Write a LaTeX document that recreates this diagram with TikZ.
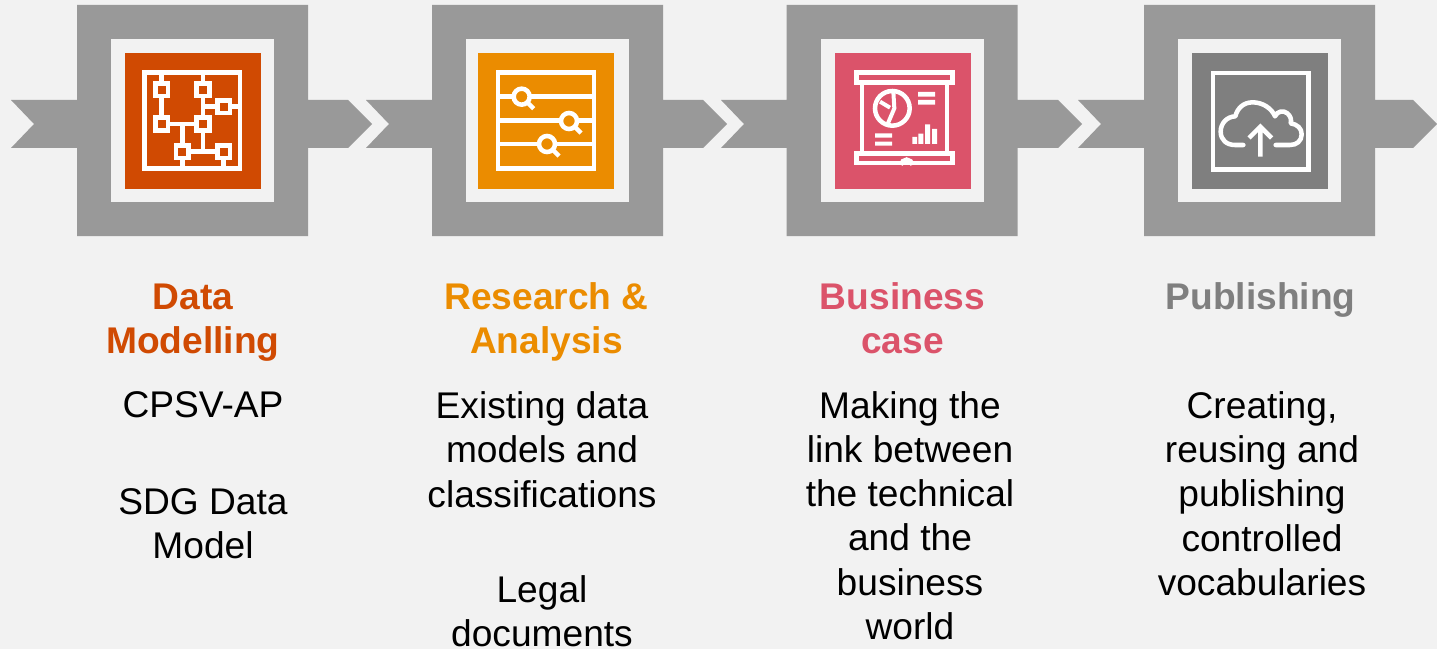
\documentclass[tikz,border=0pt]{standalone}
\usepackage{fontspec}
\setmainfont{Liberation Sans}
\definecolor{bgc}{HTML}{F2F2F2}
\definecolor{band}{HTML}{999999}
\definecolor{cA}{HTML}{D04A02}
\definecolor{cB}{HTML}{EB8C00}
\definecolor{cC}{HTML}{DB536A}
\definecolor{cD}{HTML}{7F7F7F}
\tikzset{
  bandfill/.style={fill=band,draw=none},
  panel/.style={fill=bgc,draw=none},
  iconline/.style={draw=white,line width=3.4pt,fill=none},
  iconthin/.style={draw=white,line width=3pt,fill=none},
  iconbar/.style={fill=white,draw=none},
  bodytext/.style={align=center,inner sep=0pt,font=\fontsize{27.85}{33.2}\selectfont,text=black},
  titletext/.style={align=center,inner sep=0pt,font=\fontsize{27.85}{33.2}\selectfont\bfseries},
}
% #1 left edge of the square, #2 tail x, #3 tip x, #4 colour left edge, #5 colour
\newcommand{\stage}[5]{%
  \fill[bandfill] (#2,100) -- (#1,100) -- (#1,5) -- (#1+231,5) -- (#1+231,100)
     -- (#3-24,100) -- (#3,124) -- (#3-24,148) -- (#1+231,148) -- (#1+231,236)
     -- (#1,236) -- (#1,148) -- (#2,148) -- (#2+23,124) -- cycle;
  \fill[panel] (#1+34,39) rectangle (#1+197,202);
  \fill[#5] (#4,53) rectangle (#4+136,189);
}
\begin{document}
\begin{tikzpicture}[x=0.75pt,y=-0.75pt]
\useasboundingbox (0,0) rectangle (1437,649);
\fill[bgc] (0,0) rectangle (1437,649);
\stage{77}{11}{372}{125}{cA}
\stage{432}{366}{727}{478}{cB}
\stage{786.5}{721}{1082}{835}{cC}
\stage{1144}{1078}{1437}{1192}{cD}

% icon 1: network
\begin{scope}[shift={(120,48)},x=0.25pt,y=-0.25pt]
  \draw[iconline] (73,74) rectangle (360,361);
  \draw[iconline]
    (125,74) -- (125,228) (249,74) -- (249,311)
    (125,228) -- (249,228) (187,228) -- (187,361)
    (187,311) -- (311,311) (311,311) -- (311,361)
    (249,176) -- (360,176);
  \foreach \cx/\cy in {125/125,249/125,311/176,125/228,249/228,187/311,311/311}
    \draw[iconline,fill=cA] (\cx-19,\cy-19) rectangle (\cx+19,\cy+19);
\end{scope}

% icon 2: lenses on lines
\begin{scope}[shift={(470,45)},x=0.25pt,y=-0.25pt]
  \draw[iconline] (84,83) rectangle (372,371);
  \draw[iconline] (84,155) -- (372,155) (84,226) -- (372,226) (84,297) -- (372,297);
  \foreach \cx/\cy in {155/155,297/228,231/297}{
    \draw[iconline,fill=cB] (\cx,\cy) circle (24);
    \draw[iconline] (\cx+20,\cy+20) -- (\cx+36,\cy+36);
  }
\end{scope}

% icon 3: presentation screen
\begin{scope}[shift={(825,45)},x=0.25pt,y=-0.25pt]
  \draw[iconline] (94,83) rectangle (382,112);
  \draw[iconline] (94,326) rectangle (382,354);
  \draw[iconthin] (112,112) -- (112,326) (367,112) -- (367,326);
  \draw[iconthin] (228,360) arc[start angle=180,end angle=360,radius=17];
  \draw[iconline] (202,190) circle (52);
  \draw[iconthin] (205,140) -- (208,190) -- (188,237) (165,170) -- (195,188);
  \fill[iconbar] (279,141) rectangle (330,155) (279,165) rectangle (330,179);
  \fill[iconbar] (150,265) rectangle (201,278) (150,290) rectangle (201,302);
  \fill[iconbar] (262,276) rectangle (276,297) (280,266) rectangle (295,297)
    (300,238) rectangle (315,297) (321,252) rectangle (336,297);
\end{scope}

% icon 4: cloud upload
\begin{scope}[shift={(1180,45)},x=0.25pt,y=-0.25pt]
  \draw[iconline] (99,84) rectangle (386,374);
  \draw[iconline,line cap=round,line join=round]
    (190,300) -- (165,300) .. controls (140,300) and (122,285) .. (122,260)
    .. controls (122,235) and (140,215) .. (166,214)
    .. controls (172,190) and (190,172) .. (218,172)
    .. controls (248,172) and (275,190) .. (285,214)
    .. controls (292,198) and (310,195) .. (322,205)
    .. controls (332,213) and (335,225) .. (332,235)
    .. controls (352,238) and (365,250) .. (365,268)
    .. controls (365,288) and (350,300) .. (330,300) -- (287,300);
  \draw[iconline] (241,335) -- (241,246) (207,279) -- (241,245) -- (275,279);
\end{scope}

% labels
\node[titletext,text=cA] (t1) at (193,322.5) {\strut Data\\\strut Modelling};
\node[titletext,text=cB] (t2) at (546.5,322.5) {\strut Research \&\\\strut Analysis};
\node[titletext,text=cC] (t3) at (902.5,322.5) {\strut Business\\\strut case};
\node[titletext,text=cD] (t4) at (1260.5,300.5) {\strut Publishing};

\node[bodytext] (b1a) at (203,409) {\strut CPSV-AP};
\node[bodytext] (b1b) at (203,527.5) {\strut SDG Data\\\strut Model};
\node[bodytext] (b2a) at (542,454) {\strut Existing data\\\strut models and\\\strut classifications};
\node[bodytext] (b2b) at (542,616) {\strut Legal\\\strut documents};
\node[bodytext] (b3) at (910,520) {\strut Making the\\\strut link between\\\strut the technical\\\strut and the\\\strut business\\\strut world};
\node[bodytext] (b4) at (1262,498) {\strut Creating,\\\strut reusing and\\\strut publishing\\\strut controlled\\\strut vocabularies};
\end{tikzpicture}
\end{document}
